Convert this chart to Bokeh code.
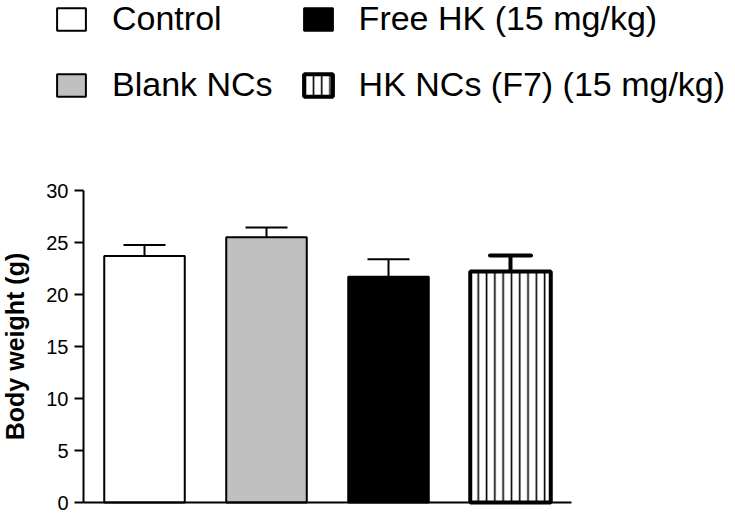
import math
from bokeh.plotting import figure
from bokeh.models import (ColumnDataSource, Range1d, Whisker, TeeHead, Legend,
                          LegendItem, FixedTicker, Label)
from bokeh.embed import file_html
from bokeh.resources import INLINE

# ---- data ----
groups = ["Control", "Blank NCs", "Free HK (15 mg/kg)", "HK NCs (F7) (15 mg/kg)"]
body_weight = [23.7, 25.5, 21.7, 22.2]
sem = [1.05, 0.95, 1.7, 1.55]
y_ticks = [0, 5, 10, 15, 20, 25, 30]

# ---- styles ----
fills = ["white", "#c0c0c0", "black", "white"]
outline_w = [2, 2, 2, 4]
hatches = [" ", " ", " ", "|"]

FONT = "Liberation Sans"
W, H = 735, 514
AXIS_PX = 83        # pixel where the value axis sits
CAT_PX = 122        # pixels per category slot
BASE_PX = 502       # pixel row of the zero line
VAL_PX = 312        # pixels spanned by the 0..30 axis

xpos = [i + 0.5 for i in range(len(groups))]
upper = [m + s for m, s in zip(body_weight, sem)]
src = ColumnDataSource(dict(x=xpos, g=groups, m=body_weight, up=upper,
                            fill=fills, lw=outline_w, hatch=hatches))

y_lo, y_hi = y_ticks[0], y_ticks[-1]
per_px = (y_hi - y_lo) / VAL_PX
p = figure(x_range=Range1d(-AXIS_PX / CAT_PX, (W - AXIS_PX) / CAT_PX),
           y_range=Range1d(y_lo - (H - BASE_PX) * per_px, y_lo + BASE_PX * per_px),
           width=W, height=H, output_backend="svg", toolbar_location=None,
           min_border_left=0, min_border_right=0, min_border_top=0,
           min_border_bottom=0)
p.outline_line_color = None
p.xgrid.visible = False
p.ygrid.visible = False

bars = p.vbar(x="x", top="m", bottom=y_lo, width=0.66, source=src, fill_color="fill",
              line_color="black", line_width="lw", hatch_pattern="hatch",
              hatch_color="black", hatch_scale=8.3, hatch_weight=1.6)

thin_idx = [0, 1, 2]
thick_idx = [3]
src_thin = ColumnDataSource(dict(x=[xpos[i] for i in thin_idx],
                                 m=[body_weight[i] for i in thin_idx],
                                 up=[upper[i] for i in thin_idx]))
src_thick = ColumnDataSource(dict(x=[xpos[i] for i in thick_idx],
                                  m=[body_weight[i] for i in thick_idx],
                                  up=[upper[i] for i in thick_idx]))
w1 = Whisker(source=src_thin, base="x", lower="m", upper="up", line_width=2,
             upper_head=TeeHead(size=42, line_width=2), lower_head=None)
w2 = Whisker(source=src_thick, base="x", lower="m", upper="up", line_width=4,
             upper_head=TeeHead(size=41, line_width=4, line_cap="round"),
             lower_head=None)
p.add_layout(w1)
p.add_layout(w2)

# x axis: only the baseline under the bars
xa = p.xaxis[0]
xa.fixed_location = y_lo
xa.bounds = (0, len(groups))
xa.ticker = FixedTicker(ticks=[])
xa.axis_line_width = 2
xa.major_tick_line_color = None
xa.minor_tick_line_color = None

# y axis
ax = p.yaxis[0]
ax.fixed_location = 0
ax.bounds = (y_lo, y_hi)
ax.ticker = FixedTicker(ticks=y_ticks)
ax.major_label_text_font = FONT
ax.major_label_text_font_size = "20px"
ax.major_label_text_color = "black"
ax.major_label_standoff = 6
ax.major_tick_in = 0
ax.major_tick_out = 9
ax.major_tick_line_width = 2
ax.axis_line_width = 2
ax.minor_tick_line_color = None

p.add_layout(Label(x=14.5, y=(y_lo + y_hi) / 2, x_units="screen", y_units="data",
                   text="Body weight (g)", angle=math.pi / 2,
                   text_font=FONT, text_font_style="bold", text_font_size="25px",
                   text_color="black", text_align="center", text_baseline="middle"))

items = [LegendItem(label=groups[i], renderers=[bars], index=i) for i in range(len(groups))]
leg = Legend(items=items, location=(53, H - 2 - 102), orientation="vertical", nrows=2,
             label_text_font=FONT, label_text_font_size="34px",
             label_text_color="black", glyph_width=36, glyph_height=28,
             label_standoff=23, spacing=27, padding=0, margin=0,
             border_line_color=None, background_fill_alpha=0)
p.add_layout(leg)

open("out.html", "w").write(file_html(p, INLINE))
